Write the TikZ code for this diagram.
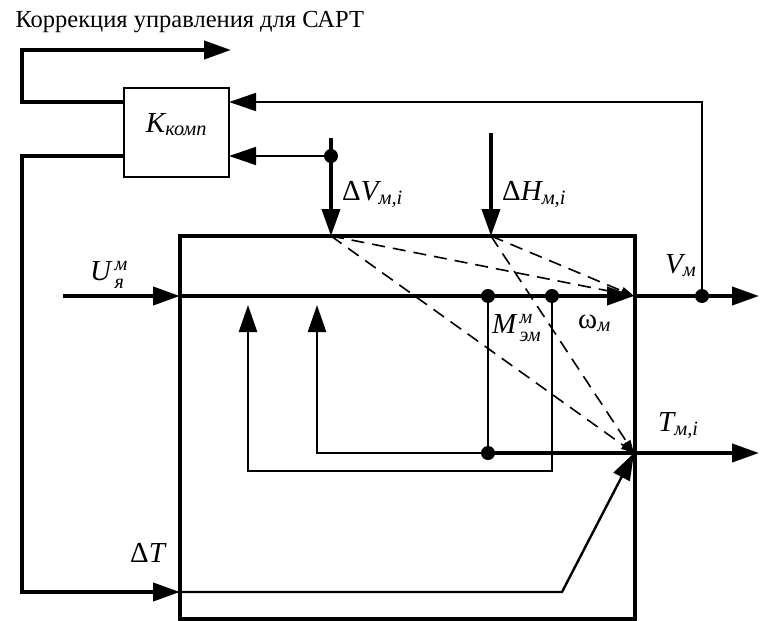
\documentclass[tikz,border=0pt]{standalone}
\usepackage{amsmath}
\usepackage{fontspec}
\setmainfont{Liberation Serif}
\usetikzlibrary{arrows.meta,positioning}
\newcommand{\supsub}[2]{\kern2pt\rlap{\raisebox{10pt}{\fontsize{20}{20}\selectfont\itshape #1}}\raisebox{-8pt}{\fontsize{20}{20}\selectfont\itshape #2}}

\begin{document}
\begin{tikzpicture}[x=1pt, y=-1pt,
    thickline/.style={line width=4pt},
    midline/.style={line width=2.4pt},
    thinline/.style={line width=1.6pt},
    bigtip/.style={-{Triangle[length=27pt,width=18pt]}},
    smalltip/.style={-{Triangle[length=13pt,width=8pt]}},
    dot/.style={circle, fill, inner sep=0pt, minimum size=14pt},
    lbl/.style={font=\fontsize{29}{32}\selectfont, inner sep=0pt}]
  \useasboundingbox (0,0) rectangle (761,621);
  \node[font=\fontsize{24.5}{28}\selectfont, anchor=west] (title) at (12,22) {Коррекция управления для САРТ};
  % blocks
  \node[draw, thinline, minimum width=105pt, minimum height=89pt] (kblock) at (176.5,132.5) {};
  \node[lbl, anchor=base] (klbl) at (176.5,132) {$\textit{K}_{\textit{комп}}$};
  \node[draw, thickline, minimum width=455pt, minimum height=383pt] (plant) at (407.5,427.5) {};
  % points
  \coordinate (kout) at (124,102);
  \coordinate (kin1) at (229,102);
  \coordinate (kin2) at (229,156);
  \coordinate (kleft) at (124,156);
  \coordinate (dvtop) at (331,138);
  \node[dot] (dvdot) at (331,156) {};
  \coordinate (dvin) at (331,236);
  \coordinate (dhtop) at (491,133);
  \coordinate (dhin) at (491,236);
  \coordinate (ustart) at (63,296);
  \coordinate (uin) at (180,296);
  \node[dot] (mdot) at (488,296) {};
  \node[dot] (wdot) at (552,296) {};
  \coordinate (wout) at (634,296);
  \node[dot] (vdot) at (702,296) {};
  \coordinate (vend) at (759,296);
  \node[dot] (tdot) at (488,453) {};
  \coordinate (tout) at (634,453);
  \coordinate (tend) at (759,453);
  \coordinate (fb1) at (317,305);
  \coordinate (fb2) at (248,305);
  \coordinate (dtin) at (180,592);
  \coordinate (dtbend) at (562,592);
  % correction loop
  \draw[thickline, bigtip] (kout) -- (22,102) -- (22,50) -- (231,50);
  \draw[thickline, bigtip] (kleft) -- (22,156) -- (22,592) -- (dtin);
  \draw[thinline, bigtip] (vdot.center) -- (702,102) -- (kin1);
  \draw[thinline, bigtip] (dvdot.center) -- (kin2);
  % disturbances
  \draw[thickline, bigtip] (dvtop) -- (dvin);
  \draw[thickline, bigtip] (dhtop) -- (dhin);
  % main channel
  \draw[thickline, bigtip] (ustart) -- (uin);
  \draw[thickline, bigtip] (uin) -- (wout);
  \draw[thickline, bigtip] (wout) -- (vend);
  \draw[midline] (mdot.center) -- (tdot.center);
  \draw[thickline, bigtip] (tdot.center) -- (tend);
  \draw[midline, bigtip] (tdot.center) -- (317,453) -- (fb1);
  \draw[midline, bigtip] (wdot.center) -- (552,471) -- (248,471) -- (fb2);
  \draw[midline, bigtip] (dtin) -- (dtbend) -- (tout);
  % influence of disturbances
  \foreach \a in {dvin, dhin}
    \foreach \b in {wout, tout}
      \draw[thinline, dash pattern=on 13pt off 8pt, smalltip] (\a) -- (\b);
  % labels
  \node[lbl, anchor=base west] (dvlbl) at (342,200) {Δ$\textit{V}_{\textit{м,i}}$};
  \node[lbl, anchor=base west] (dhlbl) at (502,200) {Δ$\textit{H}_{\textit{м,i}}$};
  \node[lbl, anchor=base west] (ulbl) at (90,280) {\textit{U}\supsub{м}{я}};
  \node[lbl, anchor=base west] (mlbl) at (492,333) {\textit{M}\supsub{м}{эм}};
  \node[lbl, anchor=base west] (wlbl) at (578,328) {$\text{ω}_{\textit{м}}$};
  \node[lbl, anchor=base west] (vlbl) at (665,273) {$\textit{V}_{\textit{м}}$};
  \node[lbl, anchor=base west] (tlbl) at (658,431) {$\textit{T}_{\textit{м,i}}$};
  \node[lbl, anchor=base west] (dtlbl) at (130,562) {Δ\textit{T}};
\end{tikzpicture}
\end{document}
